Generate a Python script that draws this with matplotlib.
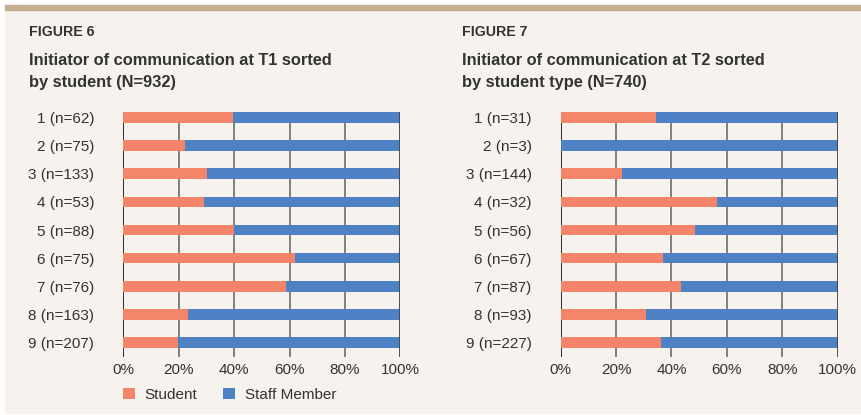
import matplotlib.pyplot as plt
from matplotlib.patches import Rectangle

W, H = 862, 415

# data: share of communications initiated by students (rest = staff member)
t1_labels = ["1 (n=62)", "2 (n=75)", "3 (n=133)", "4 (n=53)", "5 (n=88)",
             "6 (n=75)", "7 (n=76)", "8 (n=163)", "9 (n=207)"]
t1_student = [39.6, 22.3, 30.2, 29.1, 40.0, 62.0, 58.7, 23.3, 19.7]

t2_labels = ["1 (n=31)", "2 (n=3)", "3 (n=144)", "4 (n=32)", "5 (n=56)",
             "6 (n=67)", "7 (n=87)", "8 (n=93)", "9 (n=227)"]
t2_student = [34.4, 0.0, 22.1, 56.4, 48.5, 36.9, 43.4, 30.8, 36.2]

fig_labels = ["FIGURE 6", "FIGURE 7"]
titles = [["Initiator of communication at T1 sorted", "by student (N=932)"],
          ["Initiator of communication at T2 sorted", "by student type (N=740)"]]
xticks = [0, 20, 40, 60, 80, 100]
series_names = ["Student", "Staff Member"]

ORANGE = "#F4846A"
BLUE = "#4F82C4"
BG = "#F6F3EE"
TAN = "#C4AE8D"
TXT = "#333333"

plt.rcParams['font.family'] = ['Liberation Sans', 'DejaVu Sans']

fig = plt.figure(figsize=(W / 100, H / 100), dpi=100)
fig.patch.set_facecolor("white")
fig.patches.append(Rectangle((5 / W, 1 - 413 / H), 857 / W, 403 / H,
                             transform=fig.transFigure, color=BG, zorder=-2))
fig.patches.append(Rectangle((5 / W, 1 - 10.5 / H), 857 / W, 5 / H,
                             transform=fig.transFigure, color=TAN, zorder=-2))


def px_axes(x0, x1, y0, y1):
    return fig.add_axes([x0 / W, 1 - y1 / H, (x1 - x0) / W, (y1 - y0) / H])


panels = [
    (123.3, 400.3, 29, t1_labels, t1_student),
    (560.7, 837.7, 461.7, t2_labels, t2_student),
]

for i, (ax0, ax1, tx, labels, student) in enumerate(panels):
    ax = px_axes(ax0, ax1, 112.3, 357)
    ax.set_facecolor("none")
    staff = [100 - s for s in student]
    ypos = list(range(len(labels)))
    b1 = ax.barh(ypos, student, height=0.38, color=ORANGE, zorder=3)
    b2 = ax.barh(ypos, staff, left=student, height=0.38, color=BLUE, zorder=3)
    ax.set_xlim(0, 100)
    ax.set_ylim(8.52, -0.19)
    for x in xticks:
        c = "#1a1a1a" if x == 0 else ("#444444" if x == 100 else "#767676")
        ax.axvline(x, color=c, lw=1.3, zorder=2 if x < 100 else 4)
    ax.set_xticks(xticks)
    ax.set_xticklabels([f"{x}%" for x in xticks])
    ax.set_yticks(ypos)
    ax.set_yticklabels(labels)
    ax.tick_params(axis="both", length=0, labelsize=11, labelcolor=TXT)
    ax.tick_params(axis="x", pad=4)
    ax.tick_params(axis="y", pad=21)
    for sp in ax.spines.values():
        sp.set_visible(False)

    fig.text(tx / W, 1 - 35.5 / H, fig_labels[i], fontsize=10.2,
             fontweight="bold", color=TXT, va="baseline")
    fig.text(tx / W, 1 - 65 / H, titles[i][0], fontsize=11.8,
             fontweight="bold", color=TXT, va="baseline")
    fig.text(tx / W, 1 - 87.3 / H, titles[i][1], fontsize=11.8,
             fontweight="bold", color=TXT, va="baseline")

    if i == 0:
        ax.legend([b1, b2], series_names, loc="upper left",
                  bbox_to_anchor=(0, -0.125), frameon=False, ncol=2,
                  fontsize=11, handlelength=0.75, handleheight=0.75,
                  handletextpad=0.65, columnspacing=1.7, borderpad=0,
                  borderaxespad=0, labelcolor=TXT)

fig.savefig("out.png", dpi=100, facecolor=fig.get_facecolor())
